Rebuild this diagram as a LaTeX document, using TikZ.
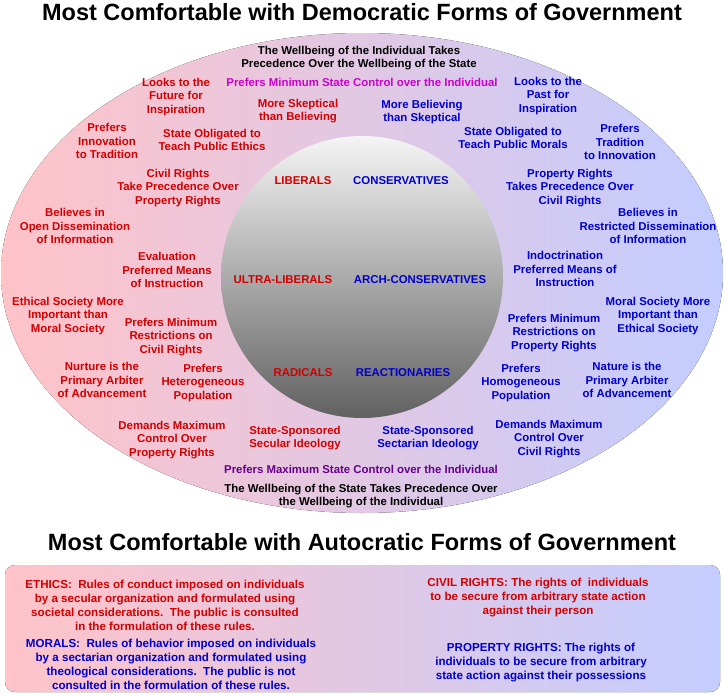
\documentclass[tikz,border=0pt]{standalone}
\usepackage{fontspec}
\setmainfont{Liberation Sans}
\begin{document}
\begin{tikzpicture}[x=1pt,y=-1pt,
  t/.style={font=\fontsize{11.4}{13.6}\selectfont\bfseries,align=center,inner sep=0pt},
  r/.style={t,text=lred},
  b/.style={t,text=lblue},
  k/.style={t,text=black},
  s/.style={font=\fontsize{11.6}{14}\selectfont\bfseries,align=center,inner sep=0pt},
  ttl/.style={font=\fontsize{23.5}{26}\selectfont\bfseries,inner sep=0pt}]
\definecolor{lred}{RGB}{210,0,0}
\definecolor{lblue}{RGB}{0,0,204}
\definecolor{pk}{RGB}{255,195,200}
\definecolor{bl}{RGB}{195,205,255}
\definecolor{mag}{RGB}{204,0,204}
\definecolor{pur}{RGB}{102,0,140}
\useasboundingbox (0,0) rectangle (724,697);
\fill[white] (0,0) rectangle (724,697);
\node[ttl] (t1) at (362,12) {Most Comfortable with Democratic Forms of Government};
\fill[left color=pk,right color=bl] (362,273) ellipse [x radius=361,y radius=240];
\shade[top color=gray!8,bottom color=black!62] (362,277) circle [radius=141];
\node[k] (a1) at (359,58) {The Wellbeing of the Individual Takes\\Precedence Over the Wellbeing of the State};
\node[t,text=mag] (a2) at (362,82) {Prefers Minimum State Control over the Individual};
\node[r] at (176,97) {Looks to the\\Future for\\Inspiration};
\node[b] at (548,96) {Looks to the\\Past for\\Inspiration};
\node[r] at (298,111) {More Skeptical\\than Believing};
\node[b] at (422,112) {More Believing\\than Skeptical};
\node[r] at (107,141) {Prefers\\Innovation\\to Tradition};
\node[r] at (212,140) {State Obligated to\\Teach Public Ethics};
\node[b] at (513,138) {State Obligated to\\Teach Public Morals};
\node[b] at (620,142) {Prefers\\Tradition\\to Innovation};
\node[r] at (178,188) {Civil Rights\\Take Precedence Over\\Property Rights};
\node[b] at (570,188) {Property Rights\\Takes Precedence Over\\Civil Rights};
\node[r] at (75,226) {Believes in\\Open Dissemination\\of Information};
\node[b] at (648,226) {Believes in\\Restricted Dissemination\\of Information};
\node[r] at (303,181) {LIBERALS};
\node[b] at (401,181) {CONSERVATIVES};
\node[r] at (283,280) {ULTRA-LIBERALS};
\node[b] at (420,280) {ARCH-CONSERVATIVES};
\node[r] at (303,373) {RADICALS};
\node[b] at (403,373) {REACTIONARIES};
\node[r] at (167,270) {Evaluation\\Preferred Means\\of Instruction};
\node[b] at (565,269) {Indoctrination\\Preferred Means of\\Instruction};
\node[r] at (68,316) {Ethical Society More\\Important than\\Moral Society};
\node[b] at (658,316) {Moral Society More\\Important than\\Ethical Society};
\node[r] at (171,337) {Prefers Minimum\\Restrictions on\\Civil Rights};
\node[b] at (554,333) {Prefers Minimum\\Restrictions on\\Property Rights};
\node[r] at (102,380) {Nurture is the\\Primary Arbiter\\of Advancement};
\node[r] at (203,383) {Prefers\\Heterogeneous\\Population};
\node[b] at (521,383) {Prefers\\Homogeneous\\Population};
\node[b] at (627,380) {Nature is the\\Primary Arbiter\\of Advancement};
\node[r] at (172,440) {Demands Maximum\\Control Over\\Property Rights};
\node[r] at (295,438) {State-Sponsored\\Secular Ideology};
\node[b] at (428,438) {State-Sponsored\\Sectarian Ideology};
\node[b] at (549,439) {Demands Maximum\\Control Over\\Civil Rights};
\node[t,text=pur] at (361,469) {Prefers Maximum State Control over the Individual};
\node[k] at (361,496) {The Wellbeing of the State Takes Precedence Over\\the Wellbeing of the Individual};
\node[ttl] (t2) at (362,542) {Most Comfortable with Autocratic Forms of Government};
\fill[left color=pk,right color=bl,rounded corners=10pt] (5,565) rectangle (720,692);
\node[s,text=lred] at (165,605) {ETHICS:\ \ Rules of conduct imposed on individuals\\by a secular organization and formulated using\\societal considerations.\ \ The public is consulted\\in the formulation of these rules.};
\node[s,text=lblue] at (171,664) {MORALS:\ \ Rules of behavior imposed on individuals\\by a sectarian organization and formulated using\\theological considerations.\ \ The public is not\\consulted in the formulation of these rules.};
\node[s,text=lred] at (538,598) {CIVIL RIGHTS: The rights of\ \ individuals\\to be secure from arbitrary state action\\against their person};
\node[s,text=lblue] at (541,663) {PROPERTY RIGHTS: The rights of\\individuals to be secure from arbitrary\\state action against their possessions};
\end{tikzpicture}
\end{document}
